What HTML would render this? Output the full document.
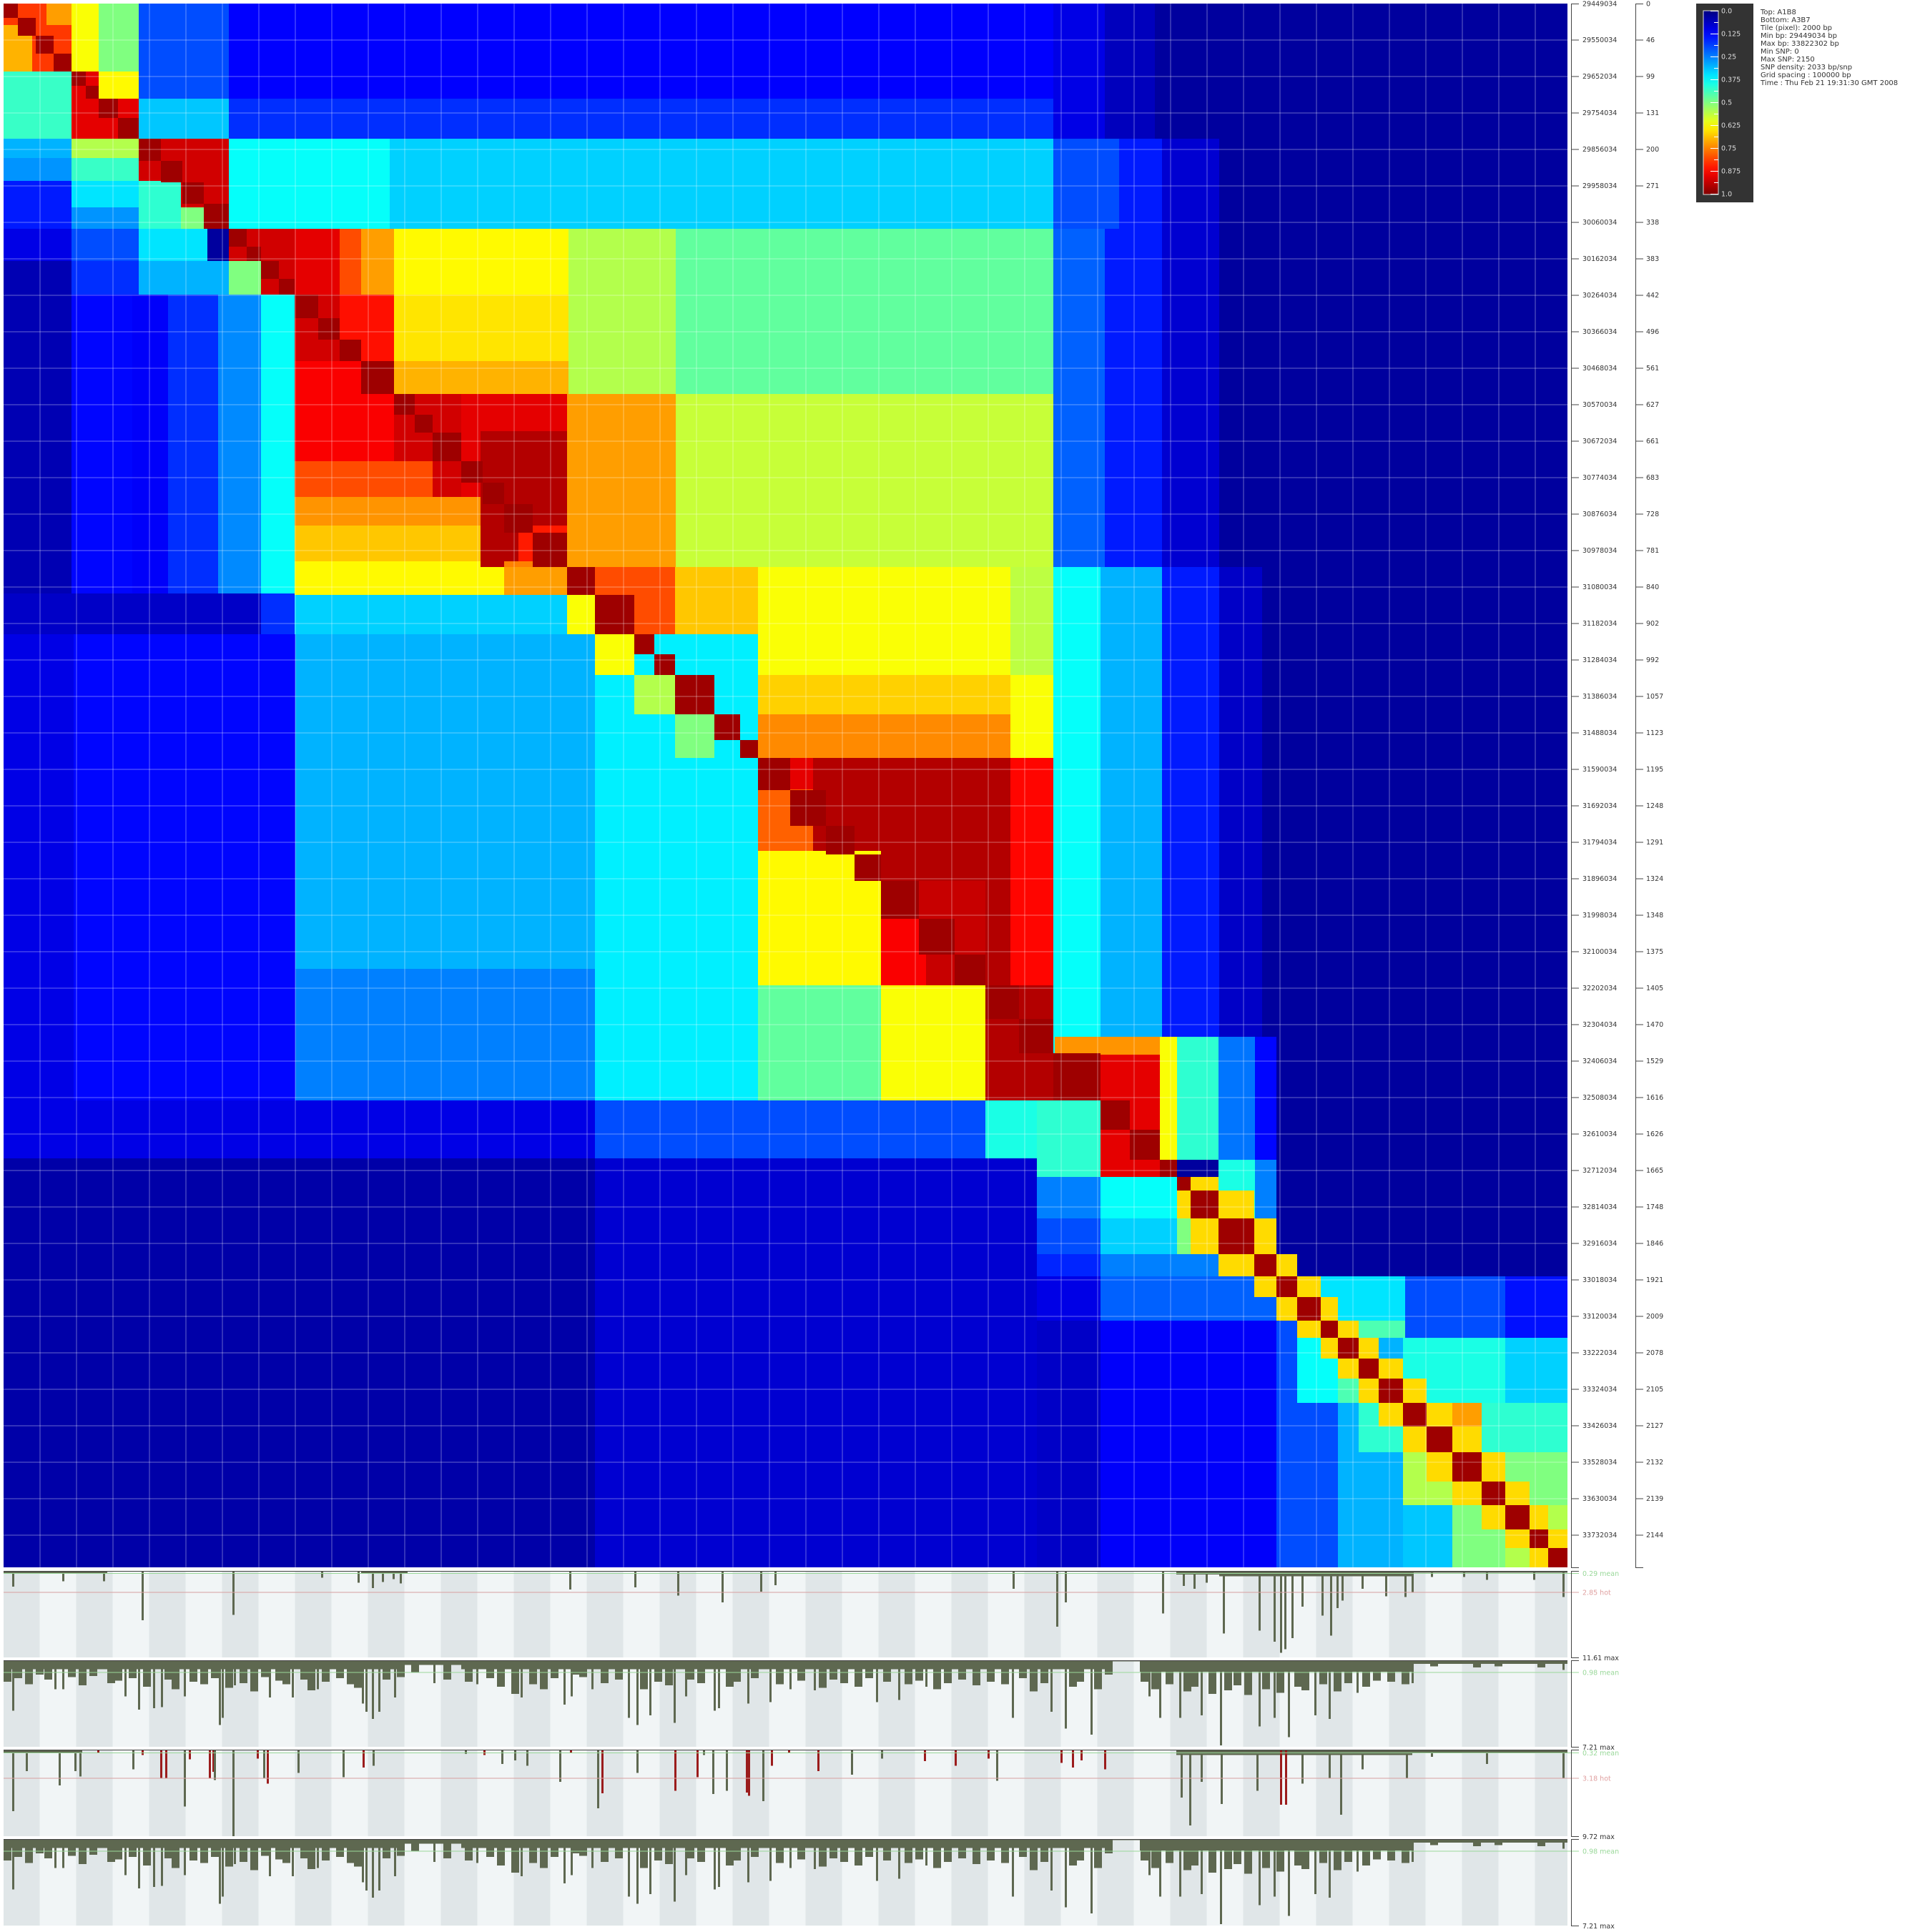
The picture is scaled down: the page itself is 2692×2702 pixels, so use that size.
<!DOCTYPE html>
<html><head><meta charset="utf-8"><style>
html,body{margin:0;padding:0;background:#fff;}
svg{display:block;font-family:"DejaVu Sans","Liberation Sans",sans-serif;}
</style></head><body>
<svg id="root" xmlns="http://www.w3.org/2000/svg" width="2692" height="2702" viewBox="0 0 2692 2702">
<g id="heat" shape-rendering="crispEdges"></g>
<g id="grid" shape-rendering="crispEdges"></g>
<g id="axes"></g>
<g id="tracks" shape-rendering="crispEdges"></g>
<g id="legend">
  <rect x="2372" y="5" width="80" height="278" fill="#333333"/>
  <defs><linearGradient id="jet" x1="0" y1="0" x2="0" y2="1"></linearGradient></defs>
  <rect x="2382" y="15" width="21" height="257" fill="url(#jet)" stroke="#dddddd" stroke-width="1"/>
</g>
<g id="info" font-size="10" fill="#333">
  <text x="2462" y="20">Top:  A1B8</text>
  <text x="2462" y="31">Bottom:  A3B7</text>
  <text x="2462" y="42">Tile (pixel):  2000 bp</text>
  <text x="2462" y="53">Min bp:  29449034 bp</text>
  <text x="2462" y="64">Max bp:  33822302 bp</text>
  <text x="2462" y="75">Min SNP:  0</text>
  <text x="2462" y="86">Max SNP:  2150</text>
  <text x="2462" y="97">SNP density:  2033 bp/snp</text>
  <text x="2462" y="108">Grid spacing :  100000 bp</text>
  <text x="2462" y="119">Time :  Thu Feb 21 19:31:30 GMT 2008</text>
</g>
</svg>
<script>
// ---------- data ----------
const minBp = 29449034;
const tileBp = 2000;
const nTiles = 2187;
const tickBp = [29449034,29550034,29652034,29754034,29856034,29958034,30060034,30162034,30264034,30366034,30468034,30570034,30672034,30774034,30876034,30978034,31080034,31182034,31284034,31386034,31488034,31590034,31692034,31794034,31896034,31998034,32100034,32202034,32304034,32406034,32508034,32610034,32712034,32814034,32916034,33018034,33120034,33222034,33324034,33426034,33528034,33630034,33732034];
const tickSnp = [0,46,99,131,200,271,338,383,442,496,561,627,661,683,728,781,840,902,992,1057,1123,1195,1248,1291,1324,1348,1375,1405,1470,1529,1616,1626,1665,1748,1846,1921,2009,2078,2105,2127,2132,2139,2144];
const legendTicks = ["0.0","0.125","0.25","0.375","0.5","0.625","0.75","0.875","1.0"];
// strong-LD super blocks (square, on diagonal)
const superStart = [0,95,189,315,546,788,827,882,939,1055,1468,1534,1641,1699,1749];
const superEnd   = [95,189,315,546,788,827,882,939,1055,1468,1534,1641,1699,1749,1780];
const superVal   = [0.82,0.9,0.92,0.92,0.92,0.9,0.9,0.88,0.88,0.93,0.9,0.9,0.8,0.85,0.8];
// LD blocks: [rowStartTile,rowEndTile,colStartTile,colEndTile,r2]
const blocks = [
[0,133,189,315,0.2],[133,189,189,315,0.32],[0,133,315,1468,0.125],[133,189,315,1468,0.17],
[0,189,1468,1540,0.1],[0,189,1540,1610,0.06],
[30,95,0,40,0.7],[0,30,60,95,0.72],
[0,95,95,133,0.62],[0,95,133,189,0.5],[95,133,133,189,0.63],
[189,315,315,540,0.38],[189,315,540,1468,0.33],
[189,315,1468,1560,0.2],[189,315,1560,1620,0.15],[189,315,1620,1700,0.08],
[315,407,407,470,0.9],[315,407,470,500,0.8],[315,407,500,546,0.72],[315,407,546,790,0.63],
[315,546,790,940,0.55],[315,546,940,1468,0.47],[407,500,546,790,0.65],[500,546,546,790,0.7],[407,546,470,546,0.86],
[546,788,788,940,0.72],[546,788,940,1468,0.57],[546,788,640,788,0.9],
[788,939,939,1055,0.68],[788,939,1055,1408,0.62],[788,939,1408,1468,0.56],[788,882,827,939,0.8],
[939,994,994,1408,0.67],[994,1055,1055,1408,0.74],[939,1055,1408,1468,0.62],
[1055,1373,1055,1408,0.95],[1055,1468,1408,1468,0.87],
[315,788,1468,1540,0.22],[315,788,1540,1620,0.15],[315,788,1620,1700,0.08],
[788,1468,1468,1534,0.38],[788,1468,1534,1620,0.3],[788,1468,1620,1700,0.15],[788,1468,1700,1760,0.07],
[1445,1470,1470,1617,0.73],[1470,1534,1534,1617,0.9],[1445,1617,1617,1641,0.62],[1445,1617,1641,1699,0.42],[1445,1617,1699,1750,0.24],[1445,1617,1750,1780,0.13],
[1617,1699,1699,1750,0.4],[1617,1750,1750,1780,0.25],[1699,1750,1750,1780,0.4],
[1780,1842,1842,1960,0.35],[1780,1866,1960,2100,0.2],[1780,1866,2100,2187,0.14],[1842,1866,1866,1960,0.45],
[1866,1957,1957,2100,0.4],[1866,1957,2100,2187,0.33],[1957,2067,2067,2187,0.42],[2026,2100,2100,2187,0.5],[2100,2160,2160,2187,0.55],[1957,2026,2026,2067,0.72],
[95,189,0,95,0.43],[189,216,0,95,0.3],[216,248,0,95,0.27],[248,315,0,95,0.15],[315,360,0,95,0.1],[360,825,0,95,0.05],
[189,216,95,189,0.55],[216,248,95,189,0.43],[248,285,95,189,0.35],[285,315,95,189,0.27],
[248,315,189,248,0.42],[285,315,248,285,0.5],
[315,360,95,189,0.2],[315,360,189,285,0.35],[360,407,95,189,0.17],[360,407,189,315,0.3],[360,407,315,360,0.5],
[407,825,95,180,0.13],[407,825,180,230,0.12],[407,825,230,300,0.17],[407,825,300,360,0.26],[407,825,360,407,0.38],
[825,1534,0,98,0.1],[825,1534,98,408,0.13],[825,882,0,360,0.07],[825,882,360,407,0.17],
[882,1534,408,827,0.3],[1350,1534,408,827,0.25],[827,882,407,788,0.33],
[500,640,407,500,0.88],[546,640,500,546,0.88],[640,690,407,600,0.8],[690,730,407,700,0.73],[730,780,407,720,0.68],[780,788,407,700,0.63],
[598,788,667,788,0.95],[730,780,720,788,0.85],[780,788,700,788,0.75],
[788,827,407,700,0.63],[788,827,700,788,0.72],[827,882,788,827,0.62],
[882,1534,827,1055,0.36],[882,939,827,882,0.62],[939,994,882,939,0.55],[994,1055,939,994,0.5],
[1055,1099,1055,1132,0.9],[1099,1185,1055,1132,0.78],[1185,1373,1055,1227,0.63],
[1373,1534,1055,1227,0.47],[1373,1534,1227,1373,0.62],
[1227,1373,1227,1373,0.93],[1280,1373,1227,1290,0.88],[1373,1534,1373,1468,0.95],
[1534,1615,0,827,0.1],[1534,1615,827,1373,0.2],[1534,1615,1373,1445,0.4],
[1615,2187,0,827,0.04],[1615,2187,827,1445,0.08],
[1534,1641,1445,1534,0.42],[1641,1699,1445,1534,0.25],[1641,1699,1534,1641,0.38],
[1699,1749,1445,1534,0.2],[1699,1749,1534,1641,0.33],[1699,1749,1641,1699,0.5],
[1749,1780,1445,1534,0.16],[1749,1780,1534,1700,0.25],[1749,1780,1700,1749,0.38],
[1780,1842,1445,1534,0.1],[1780,1842,1534,1780,0.22],[1780,1842,1780,1809,0.4],
[1842,2187,1445,1534,0.07],[1842,2187,1534,1780,0.12],[1842,2187,1780,1866,0.2],
[1866,2187,1866,1957,0.3],[1957,2100,1957,2026,0.45],[2100,2187,1957,2026,0.32],
[2026,2100,1957,2026,0.55],[2067,2187,2026,2100,0.5],[2100,2187,2100,2160,0.55],
[1895,1957,1842,1895,0.45],[1957,2026,1895,1957,0.42],[1866,1957,1809,1866,0.38]
];
// diagonal LD blocks [startTile,endTile]
const diagStart = [0,20,45,70,95,115,133,160,189,220,250,280,315,340,360,385,407,440,470,500,546,575,600,640,670,700,740,788,827,882,910,939,994,1030,1055,1100,1150,1190,1227,1280,1330,1373,1420,1468,1534,1575,1617,1641,1660,1699,1749,1780,1809,1842,1866,1895,1923,1957,1990,2026,2067,2100,2134,2160];
const diagEnd   = [20,45,70,95,115,133,160,189,220,250,280,315,340,360,385,407,440,470,500,546,575,600,640,670,700,740,788,827,882,910,939,994,1030,1055,1100,1150,1190,1227,1280,1330,1373,1420,1468,1534,1575,1617,1641,1660,1699,1749,1780,1809,1842,1866,1895,1923,1957,1990,2026,2067,2100,2134,2160,2187];
const diagValue = 0.97;
const nearDiagFrom = 1641;
const nearDiagValue = 0.66;

// Tracks
const trackMax  = [11.61, 7.21, 9.72, 7.21];
const trackMean = [0.29, 0.98, 0.32, 0.98];
const trackHot  = [2.85, null, 3.18, null];
const baseStart1 = [0,145,500,565,1640,1700,1970];
const baseEnd1   = [145,500,565,1640,1700,1970,2187];
const baseVal1   = [0.3,0.05,0.4,0.05,0.5,0.7,0.25];
const baseStart2 = [0,560,640,1551,1589,1972];
const baseEnd2   = [560,640,1551,1589,1972,2187];
const baseVal2   = [0.75,0.4,0.75,0.1,0.95,0.3];
const baseStart3 = [0,110,1640,1970];
const baseEnd3   = [110,1640,1970,2187];
const baseVal3   = [0.4,0.05,0.6,0.35];
const spikePos1 = [13,83,140,194,321,445,496,516,530,545,555,792,883,943,1005,1059,1079,1412,1473,1485,1621,1650,1665,1682,1706,1756,1777,1786,1792,1802,1816,1844,1856,1865,1872,1900,1933,1960,1970,1997,2042,2074,2140,2181];
const spikeVal1 = [2.1,1.4,1.4,6.6,5.9,0.9,1.6,2.3,1.5,1.1,1.7,2.5,2.2,3.3,4.2,2.8,1.9,2.4,7.5,4.2,5.7,2.0,2.4,1.6,8.4,8.0,9.5,11.0,10.5,9.0,4.8,6.0,8.7,5.0,4.0,2.4,3.4,3.5,2.9,0.8,0.8,1.2,1.2,3.5];
const spikePos2 = [13,72,83,170,189,210,221,253,302,306,323,372,404,439,502,507,516,525,547,602,662,724,784,794,823,874,886,904,938,954,994,1000,1041,1072,1100,1134,1221,1252,1290,1411,1465,1485,1521,1602,1617,1645,1675,1702,1756,1777,1797,1834,1854,1893,1970,2181];
const spikeVal2 = [4.2,2.4,2.4,3.0,4.1,4.0,3.9,3.0,5.4,4.8,2.1,3.1,3.1,2.4,3.6,4.3,4.9,4.3,3.1,1.9,2.0,3.1,3.7,3.0,2.4,4.8,5.4,4.6,5.2,3.0,4.2,4.0,3.6,3.5,2.4,2.5,3.5,3.3,2.2,4.8,4.3,5.7,6.2,3.0,4.8,4.8,4.6,7.1,5.5,4.8,6.4,4.6,4.9,2.7,1.9,0.8];
const midPos2 = [5,20,35,50,62,95,110,125,150,160,180,200,230,240,265,280,295,315,335,350,365,385,395,420,430,450,470,485,495,535,555,575,620,650,680,695,715,740,755,770,800,810,840,860,895,915,930,960,975,1015,1025,1050,1085,1115,1145,1160,1175,1195,1210,1235,1265,1280,1305,1320,1340,1360,1380,1400,1425,1440,1455,1495,1505,1530,1545,1595,1610,1630,1655,1665,1690,1712,1725,1740,1765,1785,1810,1820,1845,1865,1880,1905,1920,1940,1960,2000,2060,2090,2150];
const midVal2 = [1.8,1.5,2.0,1.2,1.6,1.4,2.1,1.3,1.9,1.7,1.5,2.2,1.6,2.4,1.8,2.0,1.5,2.3,1.9,2.6,1.4,1.7,2.0,1.6,2.5,1.8,1.5,2.0,2.3,1.6,1.4,1.0,1.6,1.8,1.5,2.2,2.8,2.0,2.4,1.5,1.2,1.4,1.9,1.6,2.4,1.8,2.1,1.6,1.9,2.2,1.8,1.5,2.0,1.7,2.3,1.6,1.9,2.2,1.5,1.8,2.0,1.7,2.4,1.9,1.6,2.1,1.8,2.0,1.5,2.6,1.9,2.2,1.8,2.4,1.2,1.8,2.4,2.0,2.6,2.2,2.8,2.5,2.1,2.9,2.4,2.7,2.2,2.5,2.0,2.6,1.9,2.2,1.7,1.8,2.0,0.5,0.6,0.5,0.6];
const spikePos3 = [13,32,78,100,107,132,181,194,220,227,253,260,288,293,295,321,355,364,369,412,475,503,517,646,672,697,715,732,778,793,831,837,886,939,970,979,992,1011,1039,1042,1062,1074,1098,1139,1186,1228,1288,1331,1377,1389,1479,1495,1507,1540,1647,1659,1675,1703,1753,1786,1793,1816,1854,1870,1900,1962,1997,2074,2181];
const spikeVal3 = [6.9,2.4,4.0,2.4,3.0,0.4,2.2,0.6,3.2,3.2,6.4,1.1,3.2,2.5,3.4,9.7,1.0,3.2,3.8,2.6,3.1,2.0,1.8,0.5,0.6,1.6,1.2,1.8,3.6,0.4,6.6,4.9,2.6,4.6,3.1,0.6,5.0,4.6,4.8,5.2,5.8,1.8,0.4,2.4,2.8,1.0,1.3,1.8,1.0,3.5,1.5,2.0,1.2,2.2,5.4,8.5,3.6,6.1,4.6,6.2,6.2,3.8,3.2,7.3,2.2,3.2,0.8,1.6,3.2];
const spikeHot3 = [0,0,0,0,0,1,0,1,1,1,0,1,1,1,0,0,1,0,1,0,0,1,0,0,1,0,0,0,0,1,0,1,0,1,1,0,0,0,1,1,0,1,1,1,0,0,1,1,1,0,1,1,1,1,0,0,0,0,0,1,1,0,0,0,0,0,0,0,0];

// ---------- rendering ----------
const NS = "http://www.w3.org/2000/svg";
const HX = 5, HY = 5;
function xScale(tile){ return HX + tile; }
function yScale(tile){ return HY + tile; }
function bpToPix(bp){ return HY + (bp - minBp) / tileBp; }
function clamp(v){ return Math.max(0, Math.min(1, v)); }
function jet(v){
  const r = clamp(1.5 - Math.abs(4*v - 3)), g = clamp(1.5 - Math.abs(4*v - 2)), b = clamp(1.5 - Math.abs(4*v - 1));
  return "rgb(" + Math.round(r*255) + "," + Math.round(g*255) + "," + Math.round(b*255) + ")";
}
function mk(tag, attrs, parent){
  const e = document.createElementNS(NS, tag);
  for (const k in attrs) e.setAttribute(k, attrs[k]);
  parent.appendChild(e);
  return e;
}
const heat = document.getElementById("heat");
function cell(r0, r1, c0, c1, v, name){
  const r = mk("rect", {x: xScale(c0), y: yScale(r0), width: c1-c0, height: r1-r0, fill: jet(v)}, heat);
  
  
}
cell(0, nTiles, 0, nTiles, 0.03, 'ld-background');
superStart.forEach(function(s, i){ cell(s, superEnd[i], s, superEnd[i], superVal[i], 'ld-super-block'); });
blocks.forEach(function(b){ cell(b[0], b[1], b[2], b[3], b[4], 'ld-block'); });
for (let i = 0; i + 1 < diagStart.length; i++) {
  if (diagStart[i] < nearDiagFrom) continue;
  cell(diagStart[i], diagEnd[i], diagStart[i+1], diagEnd[i+1], nearDiagValue, 'ld-near-diagonal');
  cell(diagStart[i+1], diagEnd[i+1], diagStart[i], diagEnd[i], nearDiagValue, 'ld-near-diagonal');
}
diagStart.forEach(function(s, i){ cell(s, diagEnd[i], s, diagEnd[i], diagValue, 'ld-diagonal-block'); });

// grid + axes
const grid = document.getElementById("grid");
const axes = document.getElementById("axes");
tickBp.forEach(function(bp, i){
  const p = bpToPix(bp);
  if (i > 0) {
    const h = mk("line", {x1: HX, x2: HX+nTiles, y1: p+0.5, y2: p+0.5, stroke: "rgba(255,255,255,0.4)", "stroke-width": 1}, grid);
    
    
    const v = mk("line", {y1: HY, y2: HY+nTiles, x1: p+0.5, x2: p+0.5, stroke: "rgba(255,255,255,0.4)", "stroke-width": 1}, grid);
    
    
  }
  const t1 = mk("line", {x1: 2197, x2: 2208, y1: p+0.5, y2: p+0.5, stroke: "#444", "stroke-width": 1}, axes);
  
  
  const l1 = mk("text", {x: 2213, y: p+3.5, "font-size": 9.5, fill: "#333"}, axes);
  l1.textContent = String(bp);
  
  
  const t2 = mk("line", {x1: 2287, x2: 2298, y1: p+0.5, y2: p+0.5, stroke: "#444", "stroke-width": 1}, axes);
  
  
  const l2 = mk("text", {x: 2302, y: p+3.5, "font-size": 9.5, fill: "#333"}, axes);
  l2.textContent = String(tickSnp[i]);
  
  
});
[[2197,2208],[2287,2298]].forEach(function(a){
  const v = mk("line", {x1: a[0]+0.5, x2: a[0]+0.5, y1: HY, y2: HY+nTiles, stroke: "#444", "stroke-width": 1}, axes);
  
  
  const b = mk("line", {x1: a[0], x2: a[1], y1: HY+nTiles+0.5, y2: HY+nTiles+0.5, stroke: "#444", "stroke-width": 1}, axes);
  
  
});

// legend gradient + labels
const grad = document.getElementById("jet");
for (let i = 0; i <= 20; i++) {
  mk("stop", {offset: (i/20), "stop-color": jet(i/20)}, grad);
}
const legend = document.getElementById("legend");
legendTicks.forEach(function(lbl, i){
  const y = 15 + i * 32;
  const t = mk("line", {x1: 2392, x2: 2403, y1: y+0.5, y2: y+0.5, stroke: "#fff", "stroke-width": 1}, legend);
  
  
  if (i < 8) {
    const m = mk("line", {x1: 2397, x2: 2403, y1: y+16.5, y2: y+16.5, stroke: "#fff", "stroke-width": 1}, legend);
    
    
  }
  const l = mk("text", {x: 2407, y: y+3.5, "font-size": 9.5, fill: "#dddddd"}, legend);
  l.textContent = lbl;
  
  
});

// tracks
const tracks = document.getElementById("tracks");
const trackTop = [2197, 2322, 2447, 2572];
const TH = 121;
const bases = [[baseStart1,baseEnd1,baseVal1],[baseStart2,baseEnd2,baseVal2],[baseStart3,baseEnd3,baseVal3],[baseStart2,baseEnd2,baseVal2]];
const mids = [null,[midPos2,midVal2],null,[midPos2,midVal2]];
const spikes = [[spikePos1,spikeVal1,null],[spikePos2,spikeVal2,null],[spikePos3,spikeVal3,spikeHot3],[spikePos2,spikeVal2,null]];
trackTop.forEach(function(top, ti){
  const g = mk("g", {}, tracks);
  
  
  const dy = function(v){ return v / trackMax[ti] * TH; };
  for (let s = 0; s * 51 < nTiles; s++) {
    const x0 = xScale(s === 0 ? 0 : s*51 - 0.5), x1 = xScale(Math.min(nTiles, (s+1)*51 - 0.5));
    const st = mk("rect", {x: x0, y: top, width: x1-x0, height: TH, fill: (s % 2 === 0) ? "#e0e6e8" : "#f1f5f6"}, g);
    
    
  }
  const bs = bases[ti];
  bs[0].forEach(function(a, i){
    const r = mk("rect", {x: xScale(a), y: top, width: bs[1][i]-a, height: dy(bs[2][i]), fill: "#5e6850"}, g);
    
    
  });
  if (mids[ti]) {
    mids[ti][0].forEach(function(p, i){
      const r = mk("rect", {x: xScale(p)-5, y: top, width: 11, height: dy(mids[ti][1][i]), fill: "#5e6850"}, g);
      
      
    });
  }
  const sp = spikes[ti];
  sp[0].forEach(function(p, i){
    const hot = sp[2] && sp[2][i];
    const r = mk("rect", {x: xScale(p)-1, y: top, width: 3, height: dy(sp[1][i]), fill: hot ? "#9b1c1c" : "#5e6850"}, g);
    
    
  });
  const topLine = mk("line", {x1: HX, x2: HX+nTiles, y1: top+0.5, y2: top+0.5, stroke: "#444", "stroke-width": 1}, g);
  
  
  const my = top + dy(trackMean[ti]);
  const ml = mk("line", {x1: HX, x2: 2208, y1: my+0.5, y2: my+0.5, stroke: "#9ad89a", "stroke-width": 1}, g);
  
  
  const mt = mk("text", {x: 2213, y: my+4, "font-size": 9.5, fill: "#9ad89a"}, g);
  mt.textContent = trackMean[ti].toFixed(2) + " mean";
  
  
  if (trackHot[ti] !== null) {
    const hy = top + dy(trackHot[ti]);
    const hl = mk("line", {x1: HX, x2: 2208, y1: hy+0.5, y2: hy+0.5, stroke: "#d8a0a0", "stroke-width": 1}, g);
    
    
    const ht = mk("text", {x: 2213, y: hy+4, "font-size": 9.5, fill: "#e0a0a0"}, g);
    ht.textContent = trackHot[ti].toFixed(2) + " hot";
    
    
  }
  const ax = mk("path", {d: "M2208 " + (top+0.5) + " H2197.5 V" + (top+TH+0.5) + " H2208", fill: "none", stroke: "#444", "stroke-width": 1}, g);
  
  
  const mx = mk("text", {x: 2213, y: top+TH+4, "font-size": 9.5, fill: "#333"}, g);
  mx.textContent = trackMax[ti].toFixed(2) + " max";
  
  
});
</script>
</body></html>
